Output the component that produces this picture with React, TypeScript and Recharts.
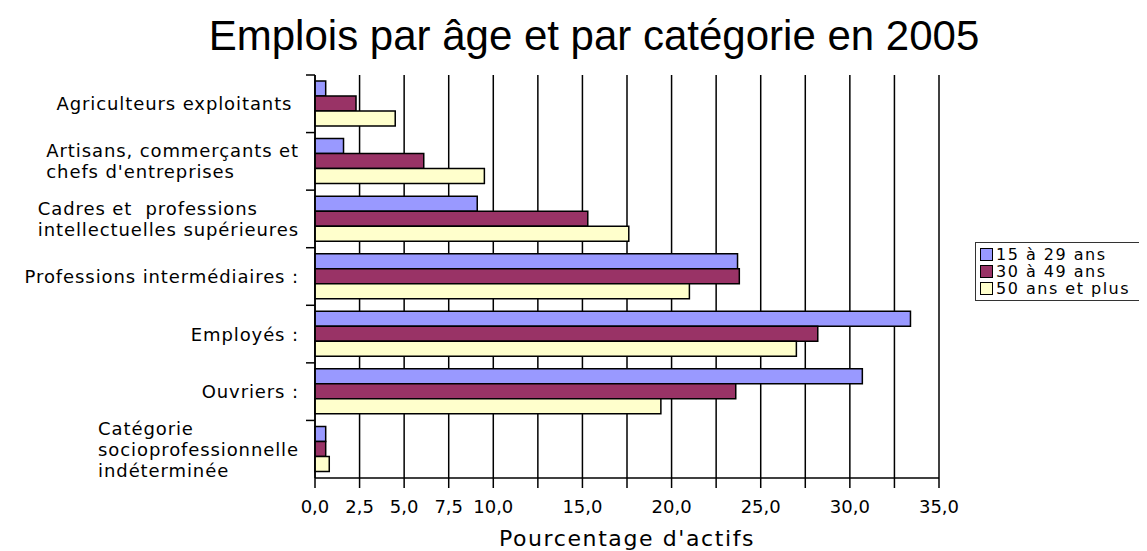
import { Bar, BarChart, CartesianGrid, Legend, XAxis, YAxis } from 'recharts';

const categories = [
  'Agriculteurs exploitants ',
  "Artisans, commerçants et\nchefs d'entreprises",
  'Cadres et  professions\nintellectuelles supérieures',
  'Professions intermédiaires :',
  'Employés :',
  'Ouvriers :',
  'Catégorie\nsocioprofessionnelle\nindéterminée',
];

const youth = [0.6, 1.6, 9.1, 23.7, 33.4, 30.7, 0.6];
const middle = [2.3, 6.1, 15.3, 23.8, 28.2, 23.6, 0.6];
const senior = [4.5, 9.5, 17.6, 21.0, 27.0, 19.4, 0.8];

const seriesKeys = ['youth', 'middle', 'senior'];
const seriesNames = ['15 à 29 ans', '30 à 49 ans', '50 ans et plus'];
const seriesColors = ['#9999ff', '#993366', '#ffffcc'];

const xTicks = [0, 2.5, 5, 7.5, 10, 12.5, 15, 17.5, 20, 22.5, 25, 27.5, 30, 32.5, 35];
const unlabeledTicks = [12.5, 17.5, 22.5, 27.5, 32.5];

const data = categories.map((name, i) => ({
  name,
  youth: youth[i],
  middle: middle[i],
  senior: senior[i],
}));

const W = 1139;
const H = 543;
const X_AXIS_H = 73;
const margin = { top: 67, right: 208, bottom: 0, left: 0 };
const band = (H - margin.top - margin.bottom - X_AXIS_H) / categories.length;

const fmt = (v: number) => (unlabeledTicks.includes(v) ? '' : v.toFixed(1).replace('.', ','));

const CategoryTick = (props: any) => {
  const { x, y, payload } = props;
  const top = y - band / 2;
  return (
    <g>
      <line x1={x - 9} x2={x} y1={top} y2={top} stroke="#000" strokeWidth={1.5} />
      <foreignObject x={0} y={top} width={x - 16} height={band}>
        <div
          style={{
            display: 'flex',
            justifyContent: 'flex-end',
            alignItems: 'center',
            height: '100%',
          }}
        >
          <div
            style={{
              whiteSpace: 'pre',
              textAlign: 'left',
              fontFamily: 'DejaVu Sans',
              fontSize: 18,
              letterSpacing: 0.9,
              lineHeight: '21px',
              color: '#000',
            }}
          >
            {payload.value}
          </div>
        </div>
      </foreignObject>
    </g>
  );
};

const LegendBox = () => (
  <div
    style={{
      border: '1.5px solid #333',
      background: '#fff',
      padding: '3px 4px',
      boxSizing: 'border-box',
      width: 168,
    }}
  >
    {seriesNames.map((n, i) => (
      <div key={n} style={{ display: 'flex', alignItems: 'center', height: 17 }}>
        <span
          style={{
            width: 11,
            height: 11,
            background: seriesColors[i],
            border: '1.5px solid #000',
            marginRight: 3,
            flexShrink: 0,
          }}
        />
        <span style={{ fontFamily: 'DejaVu Sans', fontSize: 16, letterSpacing: 1.5, color: '#000', whiteSpace: 'nowrap' }}>
          {n}
        </span>
      </div>
    ))}
  </div>
);

export default function App() {
  return (
    <div style={{ position: 'relative', width: W, height: H, background: '#fff' }}>
      <div
        style={{
          position: 'absolute',
          left: 586,
          top: 7,
          transform: 'translateX(-50%)',
          whiteSpace: 'nowrap',
          fontFamily: '"Liberation Sans", Arial, sans-serif',
          fontSize: 42,
          lineHeight: '41px',
          color: '#000',
        }}
      >
        Emplois par âge et par catégorie en 2005
      </div>
      <BarChart width={W} height={H} data={data} layout="vertical" margin={margin} barGap={0}>
        <CartesianGrid horizontal={false} stroke="#000" strokeWidth={1.5} />
        <XAxis
          type="number"
          domain={[0, 35]}
          ticks={xTicks}
          interval={0}
          tickFormatter={fmt}
          height={X_AXIS_H}
          axisLine={{ stroke: '#000', strokeWidth: 1.5 }}
          tickLine={{ stroke: '#000', strokeWidth: 1.5 }}
          tickSize={10}
          tickMargin={12}
          tick={{ fontSize: 18, fill: '#000', fontFamily: 'DejaVu Sans' }}
          label={{
            value: "Pourcentage d'actifs",
            position: 'insideBottom',
            offset: 5,
            fontSize: 22,
            fontFamily: 'DejaVu Sans',
            fill: '#000',
            letterSpacing: 1.6,
          }}
        />
        <YAxis
          type="category"
          dataKey="name"
          width={307}
          axisLine={{ stroke: '#000', strokeWidth: 1.5 }}
          tickLine={false}
          tickSize={0}
          tickMargin={0}
          interval={0}
          tick={<CategoryTick />}
        />
        <Legend
          layout="vertical"
          align="center"
          verticalAlign="middle"
          wrapperStyle={{ left: 967, top: 234, width: 168 }}
          content={() => <LegendBox />}
        />
        {seriesKeys.map((k, i) => (
          <Bar
            key={k}
            dataKey={k}
            name={seriesNames[i]}
            fill={seriesColors[i]}
            stroke="#000"
            strokeWidth={1.5}
            barSize={15}
            isAnimationActive={false}
          />
        ))}
      </BarChart>
    </div>
  );
}
